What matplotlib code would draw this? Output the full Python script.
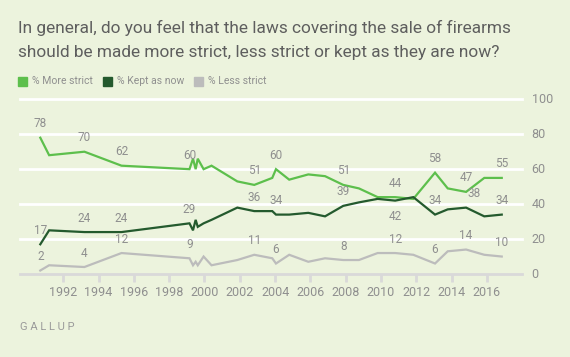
import matplotlib
matplotlib.use("Agg")
import matplotlib.pyplot as plt
from matplotlib.patches import Rectangle

plt.rcParams['font.family'] = ['Roboto', 'DejaVu Sans']

# survey dates (decimal years) and results
dates = [1990.7, 1991.2, 1993.2, 1995.3, 1999.15, 1999.35, 1999.5, 1999.62, 1999.95,
         2000.4, 2001.86, 2002.82, 2003.84, 2004.05, 2004.8, 2005.88, 2006.83, 2007.86,
         2008.75, 2009.81, 2010.8, 2011.83, 2013.06, 2013.78, 2014.82, 2015.85, 2016.84]
more_strict = [78, 68, 70, 62, 60, 66, 60, 66, 60, 62, 53, 51, 55, 60, 54, 57, 56, 51,
               49, 44, 44, 43, 58, 49, 47, 55, 55]
kept_now = [17, 25, 24, 24, 29, 25, 31, 27, 29, 31, 38, 36, 36, 34, 34, 35, 33, 39,
            41, 43, 42, 44, 34, 37, 38, 33, 34]
less_strict = [2, 5, 4, 12, 9, 5, 7, 5, 10, 5, 8, 11, 9, 6, 11, 7, 9, 8,
               8, 12, 12, 11, 6, 13, 14, 11, 10]

labeled = [0, 2, 3, 4, 11, 13, 17, 20, 22, 24, 26]
year_ticks = list(range(1992, 2017, 2))
y_ticks = [0, 20, 40, 60, 80, 100]

series_names = ['% More strict', '% Kept as now', '% Less strict']
colors = ['#5dbf4c', '#245a2e', '#bcbcbc']

bg = '#ecf3dd'
txt = '#8f8f8f'

fig = plt.figure(figsize=(5.7, 3.57), dpi=100, facecolor=bg)
ax = fig.add_axes([20 / 570, 1 - 274 / 357, (521.7 - 20) / 570, (274 - 99.3) / 357])
ax.set_facecolor(bg)
ax.set_xlim(1989.55, 2017.97)
ax.set_ylim(0, 100)

for v in y_ticks[1:]:
    ax.axhline(v, color='white', lw=2, zorder=1, clip_on=False)
    ax.text(1.02, v, str(v), transform=ax.get_yaxis_transform(), ha='left', va='center',
            fontsize=9, color=txt)
ax.text(1.02, 0, '0', transform=ax.get_yaxis_transform(), ha='left', va='center',
        fontsize=9, color=txt)

data = [more_strict, kept_now, less_strict]
for vals, c in zip(data, colors):
    ax.plot(dates, vals, color=c, lw=1.6, zorder=3, solid_joinstyle='miter')

for k, vals in enumerate(data):
    for i in labeled:
        dx, dy = 0, 14
        if k == 1 and i == 20:
            dy = -16
        if k == 1 and i == 24:
            dx = 8
        ax.annotate(str(vals[i]), (dates[i], vals[i]), xytext=(dx, dy),
                    textcoords='offset pixels', ha='center', va='center',
                    fontsize=8.5, color=txt, zorder=4)

for s in ['top', 'right', 'left']:
    ax.spines[s].set_visible(False)
ax.spines['bottom'].set_color('#d9d9d9')
ax.spines['bottom'].set_linewidth(2)
ax.set_yticks([])
ax.set_xticks(year_ticks)
ax.set_xticklabels([str(y) for y in year_ticks])
ax.tick_params(axis='x', length=6, width=2, color='#d9d9d9', labelcolor=txt,
               labelsize=9, pad=3)

fig.text(18 / 570, 1 - 28 / 357,
         'In general, do you feel that the laws covering the sale of firearms',
         fontsize=12.4, color='#5e5e5e', va='center', ha='left')
fig.text(18 / 570, 1 - 52 / 357,
         'should be made more strict, less strict or kept as they are now?',
         fontsize=12.4, color='#5e5e5e', va='center', ha='left')

# legend
lx = [18, 103.3, 194]
for x0, name, c in zip(lx, series_names, colors):
    fig.patches.append(Rectangle((x0 / 570, 1 - 85.5 / 357), 9 / 570, 9 / 357,
                                 transform=fig.transFigure, color=c))
    fig.text((x0 + 13.5) / 570, 1 - 81 / 357, name, fontsize=7.5, color=txt,
             va='center', ha='left')

fig.text(20 / 570, 1 - 327 / 357, 'G A L L U P', fontsize=8, color='#9a9a9a',
         va='center', ha='left')

fig.savefig('out.png', dpi=100, facecolor=bg)
